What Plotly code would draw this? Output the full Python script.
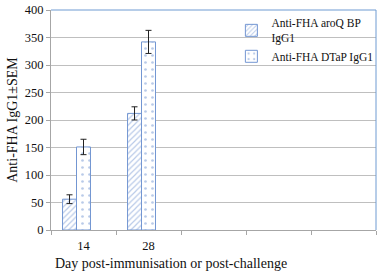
import plotly.graph_objects as go

categories = ["14", "28", "c3", "c4", "c5"]
tick_labels = ["14", "28", "", "", ""]
aroq_values = [56, 212, None, None, None]
aroq_err = [8, 12, 0, 0, 0]
dtap_values = [151, 342, None, None, None]
dtap_err = [14, 21, 0, 0, 0]
series_names = ["Anti-FHA aroQ BP<br>IgG1", "Anti-FHA DTaP IgG1"]
x_title = "Day post-immunisation or post-challenge"
y_title = "Anti-FHA IgG1±SEM"

blue = "#7396d2"
font_family = "Liberation Serif, DejaVu Serif, serif"
bar_w = 0.215

fig = go.Figure()
fig.add_trace(go.Bar(
    x=categories, y=aroq_values, name=series_names[0],
    width=bar_w, offset=-1.5 * bar_w,
    error_y=dict(type="data", array=aroq_err, color="#222222", thickness=1, width=3),
    marker=dict(color="white", line=dict(color=blue, width=1),
                pattern=dict(shape="/", fgcolor=blue, bgcolor="white", size=4, solidity=0.3)),
))
fig.add_trace(go.Bar(
    x=categories, y=dtap_values, name=series_names[1],
    width=bar_w, offset=-0.5 * bar_w,
    error_y=dict(type="data", array=dtap_err, color="#222222", thickness=1, width=3),
    marker=dict(color="white", line=dict(color=blue, width=1),
                pattern=dict(shape=".", fgcolor=blue, bgcolor="white", size=7, solidity=0.12)),
))

fig.update_layout(
    width=382, height=274,
    margin=dict(l=51, r=6, t=10, b=44, autoexpand=False),
    paper_bgcolor="white", plot_bgcolor="white",
    barmode="overlay",
    font=dict(family=font_family, size=12, color="#111111"),
    showlegend=True,
    legend=dict(x=0.555, y=1.005, xanchor="left", yanchor="top",
                bgcolor="rgba(0,0,0,0)", font=dict(size=11.5, family=font_family, color="#111111"),
                itemwidth=30, tracegroupgap=9, traceorder="normal"),
    xaxis=dict(type="category", categoryorder="array", categoryarray=categories,
               tickvals=categories, ticktext=tick_labels, automargin=False,
               tickson="boundaries", ticks="outside", ticklen=4, tickcolor="#a6a6a6",
               showline=True, linecolor="#a6a6a6", linewidth=1,
               showgrid=False, range=[-0.5, 4.5], ticklabelstandoff=4,
               tickfont=dict(size=12.5)),
    yaxis=dict(range=[0, 400], dtick=50, ticks="outside", ticklen=4, tickcolor="#a6a6a6",
               showline=True, linecolor="#a6a6a6", linewidth=1, automargin=False,
               showgrid=True, gridcolor="#bfbfbf", gridwidth=1, zeroline=False,
               tickfont=dict(size=12.5),
               title=dict(text=y_title, font=dict(size=14), standoff=3)),
)

fig.add_annotation(text=x_title, xref="paper", yref="paper", x=0.369, y=0,
                   xanchor="center", yanchor="middle", yshift=-33, showarrow=False,
                   font=dict(size=14, family=font_family, color="#111111"))

fig.add_shape(type="line", xref="x domain", yref="y domain", x0=0, x1=1, y0=1, y1=1,
              line=dict(color="#6f9bd2", width=1))
fig.add_shape(type="line", xref="x domain", yref="y domain", x0=1, x1=1, y0=0, y1=1,
              line=dict(color="#6f9bd2", width=1))

fig.write_html("out.html", config={"displayModeBar": False},
               post_script="document.body.style.margin='0';document.body.style.overflow='hidden';")
